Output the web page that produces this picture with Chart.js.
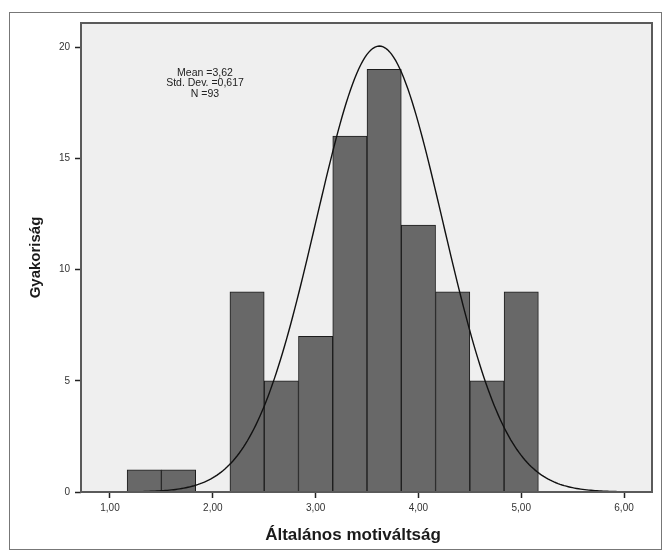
<!DOCTYPE html>
<html>
<head>
<meta charset="utf-8">
<script src="https://cdn.jsdelivr.net/npm/chart.js@4.4.0/dist/chart.umd.min.js"></script>
<style>
  html, body { margin: 0; padding: 0; background: #ffffff; }
  #wrap { width: 670px; height: 555px; position: relative; }
</style>
</head>
<body>
<div id="wrap"><canvas id="c" width="670" height="555"></canvas></div>
<script>
// Histogram bins (centres) and their frequencies
const binCenters = [4/3, 5/3, 2, 7/3, 8/3, 3, 10/3, 11/3, 4, 13/3, 14/3, 5];
const frequencies = [1, 1, 0, 9, 5, 7, 16, 19, 12, 9, 5, 9];
const binWidth = 1/3;

// Axis ticks
const xTickValues = [1, 2, 3, 4, 5, 6];
const yTickValues = [0, 5, 10, 15, 20];

// Summary statistics shown in the plot and used for the normal curve
const mean = 3.62;
const stdDev = 0.617;
const sampleSize = 93;
const statLines = ['Mean =3,62', 'Std. Dev. =0,617', 'N =93'];

const xTitle = 'Általános motiváltság';
const yTitle = 'Gyakoriság';

const xMin = 0.718, xMax = 6.272, yMax = 21.08;

// Normal curve scaled to the histogram (N * bin width * density)
const curvePoints = [];
for (let x = xMin; x <= xMax + 1e-9; x += 0.02) {
  const z = (x - mean) / stdDev;
  const y = sampleSize * binWidth * Math.exp(-0.5 * z * z) / (stdDev * Math.sqrt(2 * Math.PI));
  curvePoints.push({ x: x, y: y });
}

const FONT = "'Liberation Sans', Arial, sans-serif";

const framePlugin = {
  id: 'frame',
  beforeDraw(chart) {
    const { ctx, chartArea: a } = chart;
    ctx.save();
    ctx.fillStyle = '#ffffff';
    ctx.fillRect(0, 0, chart.width, chart.height);
    ctx.fillStyle = '#efefef';
    ctx.fillRect(a.left, a.top, a.right - a.left, a.bottom - a.top);
    ctx.restore();
  },
  afterDraw(chart) {
    const { ctx, chartArea: a } = chart;
    ctx.save();
    // plot box
    ctx.strokeStyle = '#5a5a5a';
    ctx.lineWidth = 2;
    ctx.strokeRect(a.left, a.top, a.right - a.left, a.bottom - a.top);
    // outer border
    ctx.strokeStyle = '#777777';
    ctx.lineWidth = 1;
    ctx.strokeRect(9.5, 12.5, 652, 537);
    // statistics text
    ctx.fillStyle = '#222222';
    ctx.font = '10.5px ' + FONT;
    ctx.textAlign = 'center';
    ctx.textBaseline = 'middle';
    statLines.forEach((t, i) => ctx.fillText(t, 205, 73 + i * 10.5));
    // x-axis title
    ctx.fillStyle = '#1a1a1a';
    ctx.font = 'bold 17px ' + FONT;
    ctx.fillText(xTitle, 353, 535);
    ctx.restore();
  }
};

new Chart(document.getElementById('c'), {
  type: 'bar',
  data: {
    datasets: [
      {
        type: 'line',
        data: curvePoints,
        borderColor: '#111111',
        borderWidth: 1.4,
        pointRadius: 0,
        fill: false,
        tension: 0,
        order: 0
      },
      {
        type: 'bar',
        data: binCenters.map((x, i) => ({ x: x, y: frequencies[i] })),
        backgroundColor: '#686868',
        borderColor: '#1c1c1c',
        borderWidth: 1,
        barPercentage: 1,
        categoryPercentage: 1,
        order: 1
      }
    ]
  },
  options: {
    responsive: false,
    animation: false,
    devicePixelRatio: 1,
    layout: { padding: { top: 23, right: 18, left: 0, bottom: 0 } },
    plugins: { legend: { display: false }, tooltip: { enabled: false } },
    scales: {
      x: {
        type: 'linear',
        min: xMin,
        max: xMax,
        offset: false,
        afterFit(s) { s.height = 63; },
        afterBuildTicks(s) { s.ticks = xTickValues.map(v => ({ value: v })); },
        ticks: {
          callback: v => v.toFixed(2).replace('.', ','),
          font: { size: 10, family: FONT },
          color: '#333333',
          padding: 4,
          maxRotation: 0,
          autoSkip: false
        },
        grid: { offset: false, drawOnChartArea: false, drawTicks: true, tickLength: 6, tickWidth: 1.5, tickColor: '#222222' },
        border: { display: false },
        title: { display: false }
      },
      y: {
        min: 0,
        max: yMax,
        afterFit(s) { s.width = 81; },
        afterBuildTicks(s) { s.ticks = yTickValues.map(v => ({ value: v })); },
        ticks: {
          font: { size: 10, family: FONT },
          color: '#333333',
          padding: 5
        },
        grid: { drawOnChartArea: false, drawTicks: true, tickLength: 6, tickWidth: 1.5, tickColor: '#222222' },
        border: { display: false },
        title: {
          display: true,
          text: yTitle,
          font: { size: 15, weight: 'bold', family: FONT },
          color: '#1a1a1a',
          padding: { top: 27, bottom: 0 }
        }
      }
    }
  },
  plugins: [framePlugin]
});
</script>
</body>
</html>
